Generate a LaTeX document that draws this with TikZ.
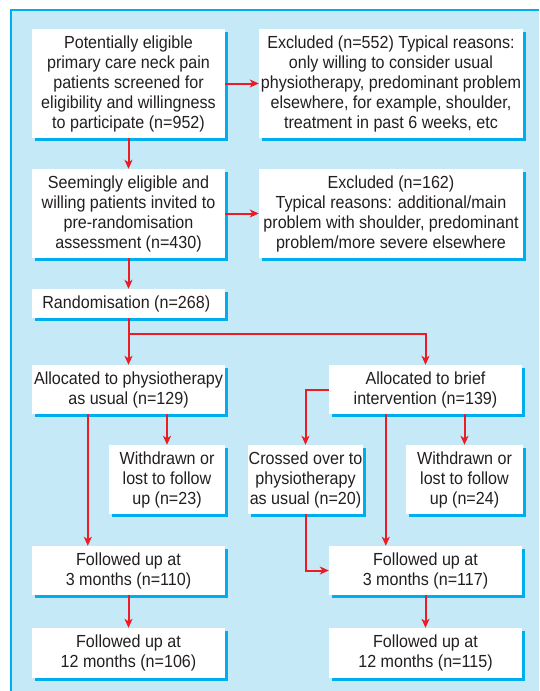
\documentclass[tikz,border=0pt]{standalone}
\usepackage{fontspec}
\setmainfont{Liberation Sans}[FakeStretch=0.92]
\usepackage{tikz}
\usetikzlibrary{arrows.meta,shadows}

\definecolor{panelblue}{HTML}{C6E9F8}
\definecolor{edgeblue}{HTML}{00AEEF}
\definecolor{flowred}{HTML}{ED1C24}
\definecolor{inkgrey}{HTML}{231F20}

\begin{document}
\begin{tikzpicture}[x=1pt,y=-1pt,>={Stealth[length=9pt,width=8pt,inset=2.5pt]},
	box/.style={shape=rectangle,fill=white,text=inkgrey,align=center,inner sep=0pt,
		font=\fontsize{17.5}{20}\selectfont,
		general shadow={fill=edgeblue,shadow xshift=3pt,shadow yshift=-3pt}},
	wide/.style={minimum width=193pt},
	flow/.style={->,draw=flowred,line width=2pt}]
	\useasboundingbox (0,0) rectangle (539,691);
	\fill[panelblue] (11,10) rectangle (539,691);
	\draw[edgeblue,line width=1.3pt] (539,10) -- (11,10) -- (11,691);

	\node (screened) [box,wide,minimum height=109pt] at (128.5,83.5) {
		Potentially eligible\\
		primary care neck pain\\
		patients screened for\\
		eligibility and willingness\\
		to participate (n=952)
	};
	\node (exclfirst) [box,minimum width=264pt,minimum height=109pt] [right of = screened,node distance=262.5pt] {
		Excluded (n=552) Typical reasons:\\
		only willing to consider usual\\
		physiotherapy, predominant problem\\
		elsewhere, for example, shoulder,\\
		treatment in past 6 weeks, etc
	};
	\node (invited) [box,wide,minimum height=89pt] [below of = screened,node distance=130pt] {
		Seemingly eligible and\\
		willing patients invited to\\
		pre-randomisation\\
		assessment (n=430)
	};
	\node (exclsecond) [box,minimum width=264pt,minimum height=89pt] [right of = invited,node distance=262.5pt] {
		Excluded (n=162)\\
		Typical reasons: additional/main\\
		problem with shoulder, predominant\\
		problem/more severe elsewhere
	};
	\node (random) [box,wide,minimum height=29pt] [below of = invited,node distance=90pt] {
		Randomisation (n=268)
	};
	\node (allocphysio) [box,wide,minimum height=49pt] [below of = random,node distance=86pt] {
		Allocated to physiotherapy\\
		as usual (n=129)
	};
	\node (allocbrief) [box,wide,minimum height=49pt] [right of = allocphysio,node distance=297pt] {
		Allocated to brief\\
		intervention (n=139)
	};
	\node (lostphysio) [box,minimum width=116pt,minimum height=69pt] at (167,479.5) {
		Withdrawn or\\
		lost to follow\\
		up (n=23)
	};
	\node (crossed) [box,minimum width=115pt,minimum height=69pt] at (305.5,479.5) {
		Crossed over to\\
		physiotherapy\\
		as usual (n=20)
	};
	\node (lostbrief) [box,minimum width=117pt,minimum height=69pt] at (464.5,479.5) {
		Withdrawn or\\
		lost to follow\\
		up (n=24)
	};
	\node (threephysio) [box,wide,minimum height=49pt] [below of = allocphysio,node distance=181pt] {
		Followed up at\\
		3 months (n=110)
	};
	\node (twelvephysio) [box,wide,minimum height=50pt] [below of = threephysio,node distance=82.5pt] {
		Followed up at\\
		12 months (n=106)
	};
	\node (threebrief) [box,wide,minimum height=49pt] [below of = allocbrief,node distance=181pt] {
		Followed up at\\
		3 months (n=117)
	};
	\node (twelvebrief) [box,wide,minimum height=50pt] [below of = threebrief,node distance=82.5pt] {
		Followed up at\\
		12 months (n=115)
	};

	\path (screened) edge[flow] (exclfirst);
	\path (screened) edge[flow] (invited);
	\path (invited) edge[flow] (exclsecond);
	\path (invited) edge[flow] (random);
	\path (random) edge[flow] (allocphysio);
	\draw[flow] (random.south) -- ++(0,16) -| (allocbrief.north);
	\draw[flow] ([xshift=56pt]allocphysio.south west) -- ([xshift=56pt]threephysio.north west);
	\draw[flow] (lostphysio.north |- allocphysio.south) -- (lostphysio.north);
	\draw[flow] (allocbrief.west) -| (crossed.north);
	\draw[flow] ([xshift=57pt]allocbrief.south west) -- ([xshift=57pt]threebrief.north west);
	\draw[flow] (lostbrief.north |- allocbrief.south) -- (lostbrief.north);
	\draw[flow] (crossed.south) |- (threebrief.west);
	\path (threephysio) edge[flow] (twelvephysio);
	\path (threebrief) edge[flow] (twelvebrief);
\end{tikzpicture}
\end{document}
